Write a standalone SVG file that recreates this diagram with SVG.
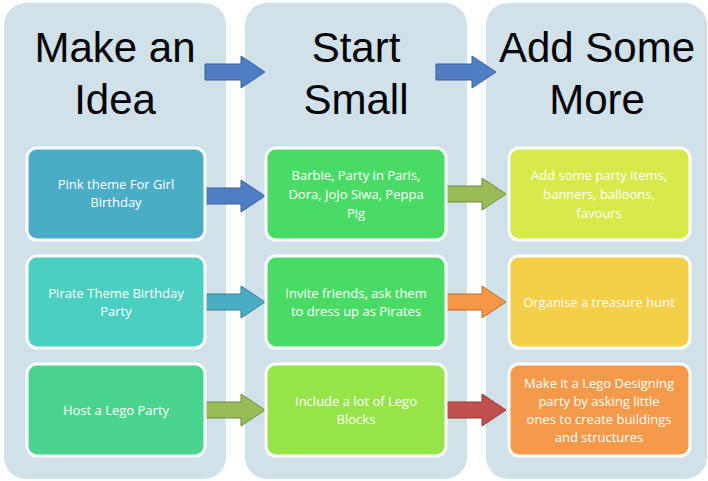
<svg xmlns="http://www.w3.org/2000/svg" width="708" height="481" viewBox="0 0 708 481">
<style>
.col{fill:#D0E1EA}
.box{stroke:#fff;stroke-width:3}
.h{font-family:"Liberation Sans",Arial,sans-serif;font-size:42px;fill:#000;text-anchor:middle}
.t{font-family:"Open Sans","Liberation Sans",sans-serif;font-size:13px;fill:#fff;text-anchor:middle}
</style>
<defs>
<path id="ar" d="M0,-8 H36 V-16 L60,0 L36,16 V8 H0 Z"/>
</defs>
<g id="columns">
<rect class="col" x="4" y="3" width="222" height="476" rx="22"/>
<rect class="col" x="245" y="3" width="222" height="476" rx="22"/>
<rect class="col" x="486" y="3" width="221" height="476" rx="22"/>
<text class="h" x="115" y="62">Make an</text><text class="h" x="115" y="114">Idea</text>
<text class="h" x="356" y="62">Start</text><text class="h" x="356" y="114">Small</text>
<text class="h" x="597" y="62">Add Some</text><text class="h" x="597" y="114">More</text>
</g>
<g id="connectors">
<use href="#ar" transform="translate(205,72)" fill="#4F7EC4" stroke="#3A5F95"/>
<use href="#ar" transform="translate(436,72)" fill="#4F7EC4" stroke="#3A5F95"/>
<use href="#ar" transform="translate(205,196)" fill="#4F7EC4" stroke="#3A5F95"/>
<use href="#ar" transform="translate(446,194)" fill="#9BBB59" stroke="#6C8A38"/>
<use href="#ar" transform="translate(205,302)" fill="#4BACC6" stroke="#357E92"/>
<use href="#ar" transform="translate(446,302)" fill="#F79646" stroke="#B86A2E"/>
<use href="#ar" transform="translate(205,410)" fill="#9BBB59" stroke="#6C8A38"/>
<use href="#ar" transform="translate(446,410)" fill="#C0504D" stroke="#8C3A37"/>
</g>
<g id="n1"><rect class="box" x="27" y="148" width="178" height="92" rx="10" fill="#4AACC5"/><text class="t" x="116" y="189">Pink theme For Girl</text><text class="t" x="116" y="207">Birthday</text></g>
<g id="n2"><rect class="box" x="27" y="256" width="178" height="92" rx="10" fill="#4BCFC0"/><text class="t" x="116" y="298">Pirate Theme Birthday</text><text class="t" x="116" y="316">Party</text></g>
<g id="n3"><rect class="box" x="27" y="364" width="178" height="92" rx="10" fill="#4AD48E"/><text class="t" x="116" y="415">Host a Lego Party</text></g>
<g id="n4"><rect class="box" x="266" y="148" width="180" height="92" rx="10" fill="#4ADB66"/><text class="t" x="356" y="180">Barbie, Party in Paris,</text><text class="t" x="356" y="199">Dora, JoJo Siwa, Peppa</text><text class="t" x="356" y="218">Pig</text></g>
<g id="n5"><rect class="box" x="266" y="256" width="180" height="92" rx="10" fill="#4ADB66"/><text class="t" x="356" y="298">Invite friends, ask them</text><text class="t" x="356" y="316">to dress up as Pirates</text></g>
<g id="n6"><rect class="box" x="266" y="364" width="180" height="92" rx="10" fill="#97E44A"/><text class="t" x="356" y="406">Include a lot of Lego</text><text class="t" x="356" y="424">Blocks</text></g>
<g id="n7"><rect class="box" x="509" y="148" width="181" height="92" rx="10" fill="#D7EA4A"/><text class="t" x="599" y="180">Add some party items,</text><text class="t" x="599" y="199">banners, balloons,</text><text class="t" x="599" y="218">favours</text></g>
<g id="n8"><rect class="box" x="509" y="256" width="181" height="92" rx="10" fill="#F4CF4A"/><text class="t" x="599" y="307">Organise a treasure hunt</text></g>
<g id="n9"><rect class="box" x="509" y="364" width="181" height="92" rx="10" fill="#F49A4A"/><text class="t" x="599" y="388">Make it a Lego Designing</text><text class="t" x="599" y="406">party by asking little</text><text class="t" x="599" y="424">ones to create buildings</text><text class="t" x="599" y="442">and structures</text></g>
</svg>
